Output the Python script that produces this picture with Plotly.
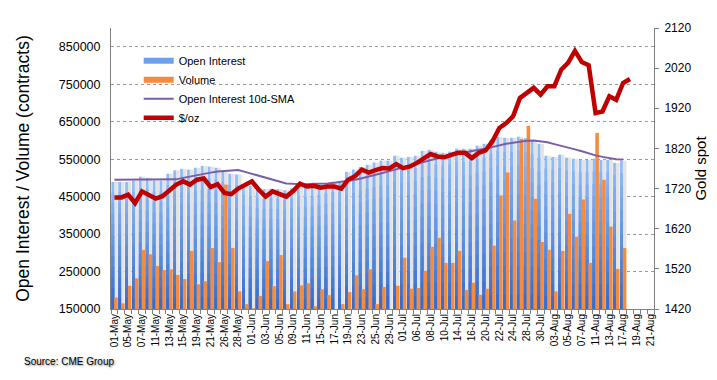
import numpy as np
import plotly.graph_objects as go

dates = ["01-May","04-May","05-May","06-May","07-May","08-May","11-May","12-May","13-May","14-May",
         "15-May","18-May","19-May","20-May","21-May","22-May","26-May","27-May","28-May","29-May",
         "01-Jun","02-Jun","03-Jun","04-Jun","05-Jun","08-Jun","09-Jun","10-Jun","11-Jun","12-Jun",
         "15-Jun","16-Jun","17-Jun","18-Jun","19-Jun","22-Jun","23-Jun","24-Jun","25-Jun","26-Jun",
         "29-Jun","30-Jun","01-Jul","02-Jul","06-Jul","07-Jul","08-Jul","09-Jul","10-Jul","13-Jul",
         "14-Jul","15-Jul","16-Jul","17-Jul","20-Jul","21-Jul","22-Jul","23-Jul","24-Jul","27-Jul",
         "28-Jul","29-Jul","30-Jul","31-Jul","03-Aug","04-Aug","05-Aug","06-Aug","07-Aug","10-Aug",
         "11-Aug","12-Aug","13-Aug","14-Aug","17-Aug","18-Aug","19-Aug","20-Aug","21-Aug"]

open_interest = [489,489,489,492,503,500,493,493,511,520,524,522,527,532,530,527,520,511,509,482,
                 478,473,470,471,470,467,472,476,477,479,482,486,490,492,516,522,529,535,541,546,
                 546,559,554,556,559,572,575,570,567,570,578,578,578,586,591,602,610,607,607,610,
                 606,600,591,559,556,562,554,551,548,548,551,548,548,540,546]

volume = [181,165,212,232,308,296,265,254,256,241,230,305,216,224,313,275,482,313,197,163,
          152,185,278,211,294,163,197,213,219,157,203,187,150,163,195,240,203,256,163,209,
          150,212,287,204,206,252,316,340,273,273,305,201,220,188,204,319,453,514,386,604,
          639,444,329,308,197,305,404,343,442,273,620,495,370,257,313]

oi_sma = [495,495,495,494,494,494,494,494,494,496,500,504,508,511,514,517,519,521,521,516,
          511,506,501,496,490,485,484,483,483,484,484,485,487,489,492,495,499,503,508,513,
          518,523,528,534,539,543,548,552,557,561,565,569,572,575,578,583,588,591,594,597,
          599,600,598,595,590,586,581,576,571,565,560,556,552,550,549]

gold = [1698,1698,1705,1684,1713,1705,1695,1701,1717,1730,1738,1730,1742,1745,1724,1731,1709,1706,1720,1730,
        1738,1717,1700,1713,1707,1700,1714,1732,1725,1727,1722,1725,1725,1720,1742,1751,1767,1760,1766,1771,
        1770,1781,1771,1775,1784,1794,1806,1800,1798,1804,1809,1809,1796,1809,1815,1838,1871,1883,1900,1946,
        1958,1971,1954,1975,1975,2016,2033,2063,2035,2027,1908,1912,1950,1941,1983,1993]

left_ticks = [150000, 250000, 350000, 450000, 550000, 650000, 750000, 850000]
right_ticks = [1420, 1520, 1620, 1720, 1820, 1920, 2020, 2120]

FONT = "Liberation Sans, Arial, sans-serif"

n = len(dates)
x_oi = dates[:len(open_interest)]
oi = np.array(open_interest) * 1000.0
vol = np.array(volume) * 1000.0
sma = np.array(oi_sma) * 1000.0
base = 150000.0

fig = go.Figure()

# shadow behind each OI bar
fig.add_trace(go.Bar(x=x_oi, y=oi, offset=-0.04, width=0.52,
                     marker=dict(color="#e3e3e3", line_width=0), showlegend=False, hoverinfo="skip"))

# OI bars with vertical gradient (light top -> dark bottom)
light = np.array([0x8f, 0xbb, 0xf7])
dark = np.array([0x36, 0x6d, 0xcc])
steps = 12
for k in range(steps):
    f = 1.0 - k / steps
    c = light + (dark - light) * (k / (steps - 1))
    col = "rgb(%d,%d,%d)" % tuple(c.astype(int))
    yk = base + (oi - base) * f
    fig.add_trace(go.Bar(x=x_oi, y=yk, offset=-0.44, width=0.40,
                         marker=dict(color=col, line_width=0), showlegend=False, hoverinfo="skip"))

# volume bars
fig.add_trace(go.Bar(x=x_oi, y=vol, offset=-0.04, width=0.52,
                     marker=dict(color="#f68b3d", line_width=0), showlegend=False, name="Volume"))

# SMA line (left axis)
fig.add_trace(go.Scatter(x=x_oi, y=sma, mode="lines", line=dict(color="#7b5ea8", width=2),
                         showlegend=False, name="Open Interest 10d-SMA"))

# gold line (right axis)
fig.add_trace(go.Scatter(x=dates[:len(gold)], y=gold, mode="lines", yaxis="y2",
                         line=dict(color="#c00000", width=4.5), showlegend=False, name="$/oz"))

# legend entries
leg = [("Open Interest", "#6f9fe8", 6), ("Volume", "#f68b3d", 6),
       ("Open Interest 10d-SMA", "#7b5ea8", 2), ("$/oz", "#c00000", 4.5)]
for name, col, w in leg:
    fig.add_trace(go.Scatter(x=[None], y=[None], mode="lines", name=name,
                             line=dict(color=col, width=w), showlegend=True))

ticktext = [d if i % 2 == 0 else "" for i, d in enumerate(dates)]

fig.update_layout(
    width=717, height=380,
    margin=dict(l=103, r=71, t=20, b=79),
    paper_bgcolor="white", plot_bgcolor="white",
    barmode="overlay",
    font=dict(family=FONT, color="black"),
    showlegend=True,
    legend=dict(x=0.051, y=0.935, xanchor="left", yanchor="top",
                bgcolor="rgba(0,0,0,0)", font=dict(size=11, family=FONT),
                tracegroupgap=0, itemwidth=30),
    xaxis=dict(type="category", categoryorder="array", categoryarray=dates,
               range=[-0.5, n - 0.5], tickmode="array", tickvals=dates, ticktext=ticktext,
               tickangle=-90, tickfont=dict(size=10, family=FONT), tickson="boundaries",
               ticks="outside", ticklen=4, tickcolor="#808080",
               showline=True, linecolor="#808080", linewidth=1, showgrid=False, zeroline=False),
    yaxis=dict(range=[150000, 900000], tickmode="array", tickvals=left_ticks,
               ticktext=[str(v) for v in left_ticks], tickfont=dict(size=12.5, family=FONT),
               showline=True, linecolor="#808080", linewidth=1,
               ticks="outside", ticklen=7, tickcolor="rgba(0,0,0,0)",
               showgrid=True, gridcolor="#9a9a9a", griddash="dot", gridwidth=1, zeroline=False,
               title=dict(text="Open Interest / Volume (contracts)", font=dict(size=17.5, family=FONT),
                          standoff=24)),
    yaxis2=dict(range=[1420, 2120], overlaying="y", side="right", tickmode="array",
                tickvals=right_ticks, ticktext=[str(v) for v in right_ticks],
                tickfont=dict(size=12, family=FONT), showline=True, linecolor="#808080",
                linewidth=1, ticks="outside", ticklen=4, tickcolor="#808080", ticklabelstandoff=3,
                showgrid=False, zeroline=False,
                title=dict(text="Gold spot", font=dict(size=15, family=FONT), standoff=5)),
    annotations=[dict(text="Source: CME Group", xref="paper", yref="paper", x=-0.163, y=-0.187,
                      xanchor="left", yanchor="middle", showarrow=False,
                      font=dict(size=10, family=FONT, color="black", shadow="1px 1px 2px #888"))],
)

fig.write_html("out.html")
